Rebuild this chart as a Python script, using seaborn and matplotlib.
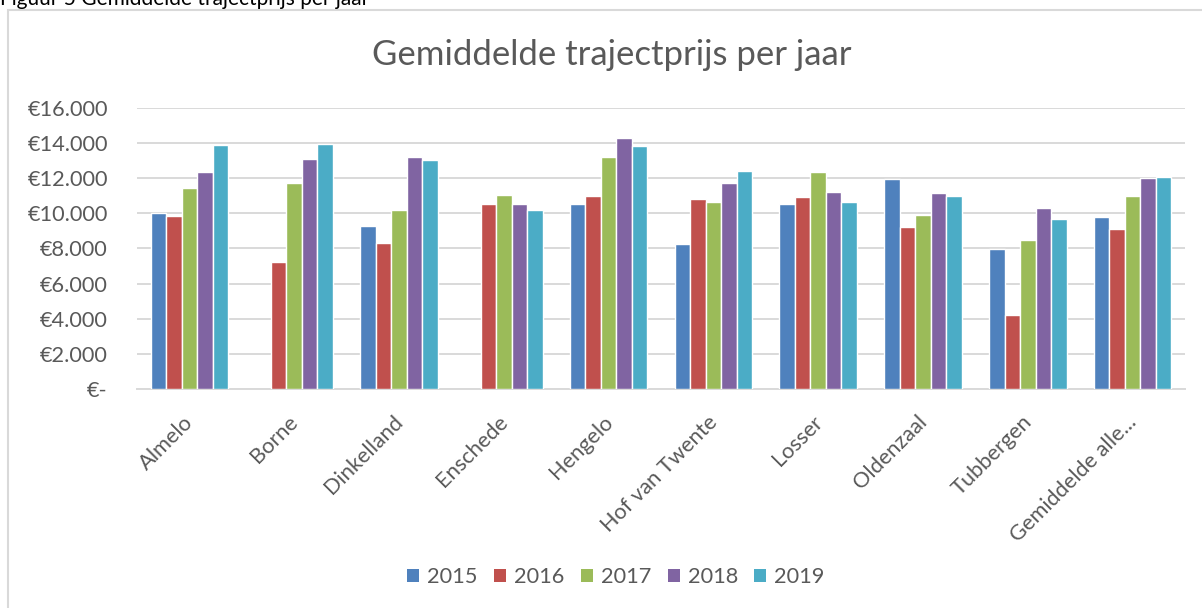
import numpy as np
import pandas as pd
import matplotlib
matplotlib.use("Agg")
import matplotlib.pyplot as plt
import matplotlib.transforms as mtransforms
from matplotlib.patches import Rectangle, Patch
from matplotlib.ticker import FuncFormatter, MultipleLocator
import seaborn as sns

gemeenten = ["Almelo", "Borne", "Dinkelland", "Enschede", "Hengelo", "Hof van Twente",
             "Losser", "Oldenzaal", "Tubbergen", "Gemiddelde alle..."]
jaren = ["2015", "2016", "2017", "2018", "2019"]
v2015 = [10000, np.nan, 9280, np.nan, 10550, 8240, 10550, 11940, 7990, 9780]
v2016 = [9850, 7220, 8330, 10550, 10990, 10800, 10920, 9230, 4210, 9130]
v2017 = [11430, 11730, 10210, 11030, 13210, 10630, 12380, 9910, 8470, 10990]
v2018 = [12340, 13120, 13230, 10550, 14290, 11750, 11200, 11140, 10330, 12000]
v2019 = [13880, 13940, 13060, 10180, 13840, 12400, 10630, 10970, 9700, 12060]
kleuren = ["#4F81BD", "#C0504D", "#9BBB59", "#8064A2", "#4BACC6"]

reeksen = [v2015, v2016, v2017, v2018, v2019]
rows = []
for jaar, vals in zip(jaren, reeksen):
    for g, v in zip(gemeenten, vals):
        rows.append({"gemeente": g, "jaar": jaar, "prijs": v})
df = pd.DataFrame(rows)

sns.set_theme(style="white")
plt.rcParams['font.family'] = ['Lato', 'DejaVu Sans']
txt = "#595959"
fs = 15.7
W, H = 1202, 608

fig = plt.figure(figsize=(W/100, H/100), dpi=100)
ax = fig.add_axes([137/W, 1-389/H, (1185-137)/W, (389-108)/H])

sns.barplot(data=df, x="gemeente", y="prijs", hue="jaar", hue_order=jaren,
            order=gemeenten, palette=kleuren, width=0.74, errorbar=None,
            edgecolor="white", linewidth=1.0, saturation=1, ax=ax, zorder=3)

ax.set_ylim(0, 16000)
ax.yaxis.set_major_locator(MultipleLocator(2000))

def fmt(v, pos):
    if abs(v) < 1e-6:
        return "€-"
    return "€" + f"{int(round(v)):,}".replace(",", ".")
ax.yaxis.set_major_formatter(FuncFormatter(fmt))
ax.grid(axis="y", color="#D9D9D9", linewidth=1.4, zorder=0)
ax.set_axisbelow(True)
for s in ["top", "right", "left"]:
    ax.spines[s].set_visible(False)
ax.spines["bottom"].set_color("#D9D9D9")
ax.spines["bottom"].set_linewidth(1.4)
ax.tick_params(axis="both", length=0, colors=txt, labelsize=fs)
ax.tick_params(axis="y", pad=21)
ax.tick_params(axis="x", pad=0)
ax.set_xlabel("")
ax.set_ylabel("")
for lab in ax.get_xticklabels():
    lab.set_rotation(45)
    lab.set_ha("right")
    lab.set_va("center")
    lab.set_rotation_mode("anchor")
ax.legend_.remove()

handles = [Patch(facecolor=c, edgecolor="none") for c in kleuren]
fig.legend(handles, jaren, loc="center", bbox_to_anchor=(616/W, 1-577/H),
           ncol=5, frameon=False, fontsize=fs, labelcolor=txt,
           handlelength=0.55, handleheight=0.55, handletextpad=0.37, columnspacing=0.75)

fig.text(612/W, 1-55/H, "Gemiddelde trajectprijs per jaar", ha="center", va="center",
         fontsize=25, color=txt)

# chart border
fig.patches.append(Rectangle((8/W, -0.05), 1.1, 1-10/H+0.05, transform=fig.transFigure,
                             fill=False, edgecolor="#D9D9D9", linewidth=1.5, zorder=0))
# caption (partially cut off at top)
fig.text(0/W, 1-5/H, "Figuur 5 Gemiddelde trajectprijs per jaar", ha="left", va="baseline",
         fontsize=15, color="#000000")

# place rotated category labels: upper-right end just right of group centre
fig.canvas.draw()
renderer = fig.canvas.get_renderer()
for i, lab in enumerate(ax.get_xticklabels()):
    bb = lab.get_window_extent(renderer)
    cx = ax.transData.transform((i, 0))[0]
    dx = (cx + 8) - bb.x1
    dy = (H - 412) - bb.y1
    lab.set_transform(lab.get_transform() + mtransforms.Affine2D().translate(dx, dy))

fig.savefig("out.png", dpi=100, facecolor="white")
